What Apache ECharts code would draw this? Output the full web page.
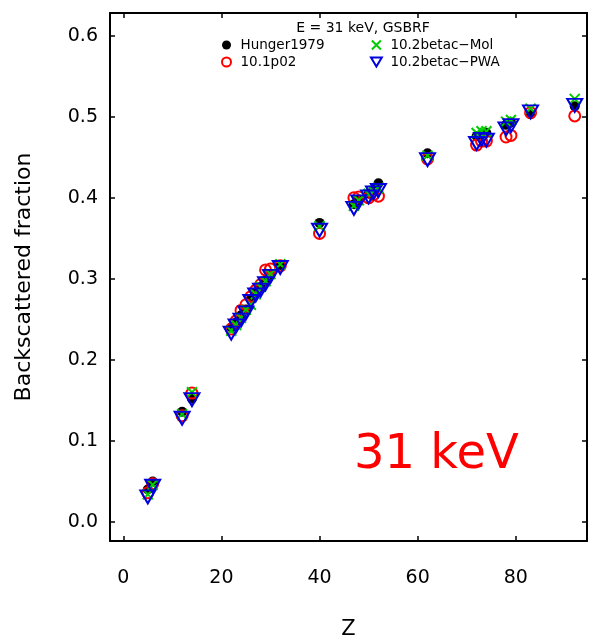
<!DOCTYPE html>
<html>
<head>
<meta charset="utf-8">
<script src="https://cdn.jsdelivr.net/npm/echarts@6/dist/echarts.min.js"></script>
<style>html,body{margin:0;padding:0;background:#fff}#c{width:600px;height:640px}</style>
</head>
<body>
<div id="c"></div>
<script>
// Atomic numbers
const zValues = [5, 6, 12, 14, 22, 23, 24, 25, 26, 27, 28, 29, 30, 32, 40, 47, 48, 50, 51, 52, 62, 72, 73, 74, 78, 79, 83, 92];
// Backscattered fractions
const hunger1979 = [0.040, 0.050, 0.136, 0.152, 0.240, 0.246, 0.255, 0.262, 0.275, 0.283, 0.290, 0.298, 0.305, 0.317, 0.369, 0.392, 0.398, 0.405, 0.410, 0.418, 0.455, 0.476, 0.478, 0.480, 0.490, 0.493, 0.503, 0.513];
const g4_101p02 = [0.036, 0.047, 0.131, 0.159, 0.238, 0.248, 0.261, 0.268, 0.278, 0.286, 0.293, 0.311, 0.312, 0.316, 0.356, 0.400, 0.401, 0.400, 0.404, 0.402, 0.448, 0.465, 0.470, 0.470, 0.475, 0.477, 0.505, 0.501];
const g4_102Mol = [0.034, 0.046, 0.133, 0.160, 0.236, 0.243, 0.252, 0.262, 0.268, 0.281, 0.290, 0.297, 0.306, 0.318, 0.365, 0.390, 0.397, 0.405, 0.408, 0.412, 0.452, 0.480, 0.482, 0.482, 0.494, 0.496, 0.510, 0.522];
const g4_102PWA = [0.031, 0.044, 0.128, 0.151, 0.233, 0.242, 0.249, 0.258, 0.272, 0.280, 0.286, 0.294, 0.303, 0.314, 0.360, 0.387, 0.395, 0.401, 0.406, 0.409, 0.447, 0.467, 0.472, 0.471, 0.485, 0.489, 0.506, 0.514];
const xTicks = [0, 20, 40, 60, 80];
const yTicks = [0, 0.1, 0.2, 0.3, 0.4, 0.5, 0.6];
const seriesNames = ['Hunger1979', '10.1p02', '10.2betac\u2212Mol', '10.2betac\u2212PWA'];

const FONT = 'DejaVu Sans';
const pts = arr => zValues.map((z, i) => [z, arr[i]]);
const crossPath = 'path://M0,0L10,10M10,0L0,10';
const downTriPath = 'path://M0,0L12,0L6,10Z';

const chart = echarts.init(document.getElementById('c'), null, {renderer: 'canvas'});
const axisCommon = {
  axisLine: {show: true, onZero: false, lineStyle: {color: '#000', width: 2}},
  splitLine: {show: false}
};
const legendText = {fontFamily: FONT, fontSize: 13.5, color: '#000', padding: [0, 0, 0, 3]};
chart.setOption({
  animation: false,
  backgroundColor: '#fff',
  grid: {left: 110, right: 13, top: 13, bottom: 99, containLabel: false, outerBoundsMode: 'none'},
  title: {
    text: 'E = 31 keV, GSBRF', left: 358, top: 16, textAlign: 'center',
    textStyle: {fontFamily: FONT, fontSize: 14, fontWeight: 'normal', color: '#000'}
  },
  legend: [
    {data: [seriesNames[0], seriesNames[1]], orient: 'vertical', left: 216, top: 33,
     itemWidth: 12, itemHeight: 9, itemGap: 3, textStyle: legendText},
    {data: [seriesNames[2], {name: seriesNames[3], icon: downTriPath}], orient: 'vertical', left: 365, top: 33,
     itemWidth: 12, itemHeight: 9, itemGap: 3, textStyle: legendText}
  ],
  xAxis: [
    Object.assign({
      type: 'value', min: -2.7, max: 94.5, position: 'bottom',
      name: 'Z', nameLocation: 'middle', nameGap: 78,
      nameTextStyle: {fontFamily: FONT, fontSize: 21, color: '#000'},
      axisTick: {show: true, inside: true, length: 5, lineStyle: {color: '#000', width: 1.5}, customValues: xTicks},
      axisLabel: {show: true, margin: 28, fontFamily: FONT, fontSize: 19, color: '#000', customValues: xTicks}
    }, axisCommon),
    Object.assign({
      type: 'value', min: -2.7, max: 94.5, position: 'top',
      axisTick: {show: true, inside: true, length: 5, lineStyle: {color: '#000', width: 1.5}, customValues: xTicks},
      axisLabel: {show: false, customValues: xTicks}
    }, axisCommon)
  ],
  yAxis: [
    Object.assign({
      type: 'value', min: -0.0235, max: 0.628, position: 'left',
      name: 'Backscattered fraction', nameLocation: 'middle', nameGap: 75, nameRotate: 90,
      nameTextStyle: {fontFamily: FONT, fontSize: 22, color: '#000'},
      axisTick: {show: true, inside: true, length: 5, lineStyle: {color: '#000', width: 1.5}, customValues: yTicks},
      axisLabel: {show: true, margin: 12, fontFamily: FONT, fontSize: 19, color: '#000', customValues: yTicks,
                  formatter: v => v.toFixed(1)}
    }, axisCommon),
    Object.assign({
      type: 'value', min: -0.0235, max: 0.628, position: 'right',
      axisTick: {show: true, inside: true, length: 5, lineStyle: {color: '#000', width: 1.5}, customValues: yTicks},
      axisLabel: {show: false, customValues: yTicks}
    }, axisCommon)
  ],
  series: [
    {name: seriesNames[0], type: 'scatter', data: pts(hunger1979), symbol: 'circle', symbolSize: 10,
     itemStyle: {color: '#000', opacity: 1}},
    {name: seriesNames[1], type: 'scatter', data: pts(g4_101p02), symbol: 'circle', symbolSize: 11,
     itemStyle: {color: 'rgba(0,0,0,0)', borderColor: '#ff0000', borderWidth: 2, opacity: 1}},
    {name: seriesNames[2], type: 'scatter', data: pts(g4_102Mol), symbol: crossPath, symbolSize: 10,
     itemStyle: {color: 'rgba(0,0,0,0)', borderColor: '#00cc00', borderWidth: 2, opacity: 1}},
    {name: seriesNames[3], type: 'scatter', data: pts(g4_102PWA), symbol: 'triangle', symbolRotate: 180, symbolSize: [15, 13],
     itemStyle: {color: 'rgba(0,0,0,0)', borderColor: '#0000dd', borderWidth: 2, opacity: 1}}
  ],
  graphic: [
    {type: 'text', left: 354, top: 432, style: {text: '31 keV', fill: '#ff0000', font: '48px "DejaVu Sans"'}}
  ]
});
</script>
</body>
</html>
